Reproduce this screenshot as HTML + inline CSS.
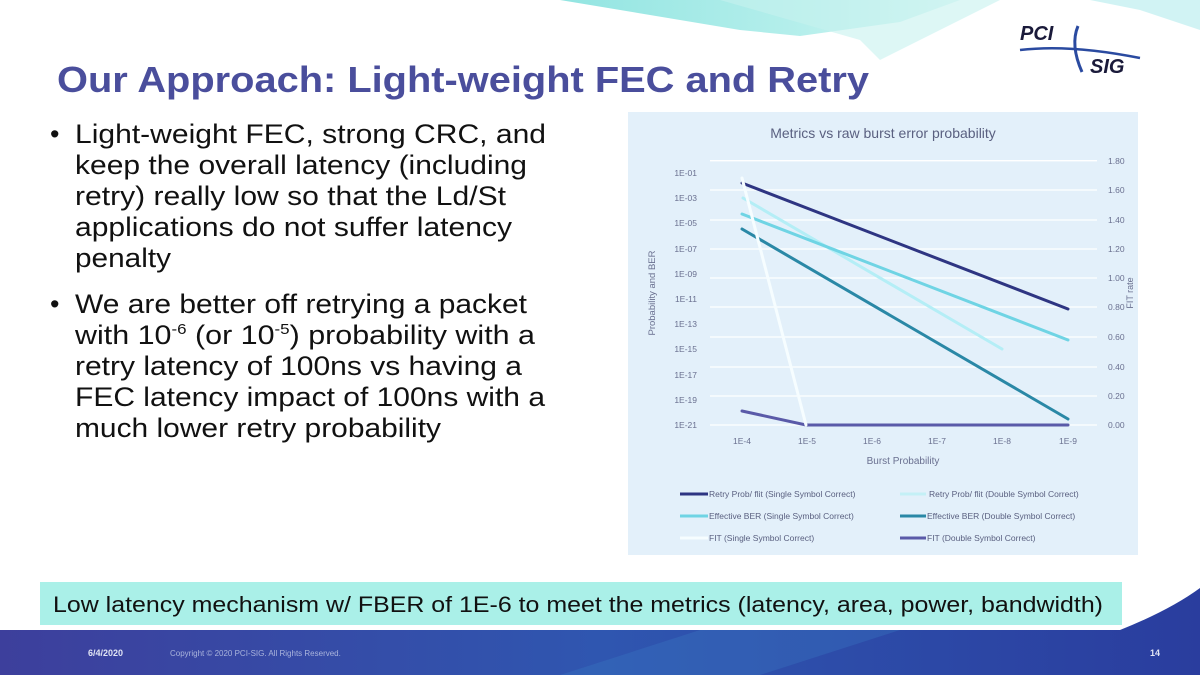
<!DOCTYPE html>
<html><head><meta charset="utf-8"><style>
html,body{margin:0;padding:0;background:#fff;}
body{width:1200px;height:675px;overflow:hidden;position:relative;font-family:"Liberation Sans",sans-serif;}
svg{position:absolute;left:0;top:0;}
</style></head><body>
<svg width="1200" height="675" viewBox="0 0 1200 675" xmlns="http://www.w3.org/2000/svg">
<defs>
<linearGradient id="top" x1="0" y1="0" x2="1" y2="0">
<stop offset="0" stop-color="#7fe0dc"/><stop offset="0.6" stop-color="#a8ece8"/><stop offset="1" stop-color="#d8f6f4"/>
</linearGradient>
<linearGradient id="foot" x1="0" y1="0" x2="1" y2="0">
<stop offset="0" stop-color="#3d3f9c"/><stop offset="0.5" stop-color="#2f56b0"/><stop offset="1" stop-color="#2a3d9e"/>
</linearGradient>
</defs>
<rect width="1200" height="675" fill="#fff"/>
<polygon points="560,0 960,0 900,22 800,36 740,30" fill="url(#top)" opacity="0.85"/>
<polygon points="720,0 1000,0 880,60 860,40" fill="#c6f2ee" opacity="0.6"/>
<polygon points="1090,0 1200,0 1200,30 1140,10" fill="#bdeef0" opacity="0.7"/>
<text x="1020" y="40" font-size="20" font-weight="bold" font-style="italic" fill="#1a1a3a">PCI</text>
<text x="1090" y="73" font-size="20" font-weight="bold" font-style="italic" fill="#1a1a3a">SIG</text>
<path d="M1020,50 Q1070,44 1140,58" stroke="#2a4aa0" stroke-width="2.5" fill="none"/>
<path d="M1078,26 Q1070,45 1082,72" stroke="#2a4aa0" stroke-width="3" fill="none"/>
<text x="57" y="92" font-size="36" font-weight="bold" fill="#4a4e9c" textLength="812" lengthAdjust="spacingAndGlyphs">Our Approach: Light-weight FEC and Retry</text>
<g font-size="27" fill="#111">
<text x="50" y="143">•</text>
<text x="75" y="143" textLength="471" lengthAdjust="spacingAndGlyphs">Light-weight FEC, strong CRC, and</text>
<text x="75" y="174" textLength="452" lengthAdjust="spacingAndGlyphs">keep the overall latency (including</text>
<text x="75" y="205" textLength="431" lengthAdjust="spacingAndGlyphs">retry) really low so that the Ld/St</text>
<text x="75" y="236" textLength="437" lengthAdjust="spacingAndGlyphs">applications do not suffer latency</text>
<text x="75" y="267" textLength="96" lengthAdjust="spacingAndGlyphs">penalty</text>
<text x="50" y="313">•</text>
<text x="75" y="313" textLength="452" lengthAdjust="spacingAndGlyphs">We are better off retrying a packet</text>
<text x="75" y="344" textLength="460" lengthAdjust="spacingAndGlyphs">with 10<tspan font-size="15" dy="-10">-6</tspan><tspan dy="10"> (or 10</tspan><tspan font-size="15" dy="-10">-5</tspan><tspan dy="10">) probability with a</tspan></text>
<text x="75" y="375" textLength="447" lengthAdjust="spacingAndGlyphs">retry latency of 100ns vs having a</text>
<text x="75" y="406" textLength="470" lengthAdjust="spacingAndGlyphs">FEC latency impact of 100ns with a</text>
<text x="75" y="437" textLength="366" lengthAdjust="spacingAndGlyphs">much lower retry probability</text>
</g>
<rect x="628" y="112" width="510" height="443" fill="#e3f0fa"/>
<text x="883" y="138" font-size="14" fill="#5a6080" text-anchor="middle">Metrics vs raw burst error probability</text>
<g stroke="#ffffff" stroke-width="1.3">
<line x1="710" x2="1097" y1="160.7" y2="160.7"/><line x1="710" x2="1097" y1="190" y2="190"/>
<line x1="710" x2="1097" y1="220" y2="220"/><line x1="710" x2="1097" y1="249" y2="249"/>
<line x1="710" x2="1097" y1="278" y2="278"/><line x1="710" x2="1097" y1="307" y2="307"/>
<line x1="710" x2="1097" y1="337" y2="337"/><line x1="710" x2="1097" y1="367" y2="367"/>
<line x1="710" x2="1097" y1="396" y2="396"/><line x1="710" x2="1097" y1="425" y2="425"/>
</g>
<g font-size="8.5" fill="#6a7090" text-anchor="end">
<text x="697" y="176">1E-01</text><text x="697" y="201">1E-03</text><text x="697" y="226">1E-05</text>
<text x="697" y="252">1E-07</text><text x="697" y="277">1E-09</text><text x="697" y="302">1E-11</text>
<text x="697" y="327">1E-13</text><text x="697" y="352">1E-15</text><text x="697" y="378">1E-17</text>
<text x="697" y="403">1E-19</text><text x="697" y="428">1E-21</text>
</g>
<g font-size="8.5" fill="#6a7090">
<text x="1108" y="164">1.80</text><text x="1108" y="193">1.60</text><text x="1108" y="223">1.40</text>
<text x="1108" y="252">1.20</text><text x="1108" y="281">1.00</text><text x="1108" y="310">0.80</text>
<text x="1108" y="340">0.60</text><text x="1108" y="370">0.40</text><text x="1108" y="399">0.20</text>
<text x="1108" y="428">0.00</text>
</g>
<g font-size="8.5" fill="#6a7090" text-anchor="middle">
<text x="742" y="444">1E-4</text><text x="807" y="444">1E-5</text><text x="872" y="444">1E-6</text>
<text x="937" y="444">1E-7</text><text x="1002" y="444">1E-8</text><text x="1068" y="444">1E-9</text>
</g>
<text x="903" y="464" font-size="10" fill="#6a7090" text-anchor="middle">Burst Probability</text>
<text transform="translate(655,293) rotate(-90)" font-size="9.5" fill="#6a7090" text-anchor="middle">Probability and BER</text>
<text transform="translate(1133,293) rotate(-90)" font-size="9" fill="#6a7090" text-anchor="middle">FIT rate</text>
<g stroke-width="3" fill="none" stroke-linecap="round">
<polyline points="742,411 806,425 1068,425" stroke="#5a5aa8"/>
<polyline points="742,229 1068,419" stroke="#2a88a6"/>
<polyline points="743,198 1002,349" stroke="#b4eef6"/>
<polyline points="742,214 1068,340" stroke="#6fd4e4"/>
<polyline points="742,183 1068,309" stroke="#2e3582"/>
<polyline points="742,178 806,425" stroke="#f6fdff"/>
</g>
<g stroke-width="3">
<line x1="680" x2="708" y1="494" y2="494" stroke="#2e3582"/>
<line x1="900" x2="926" y1="494" y2="494" stroke="#c4f0f6"/>
<line x1="680" x2="708" y1="516" y2="516" stroke="#6fd4e4"/>
<line x1="900" x2="926" y1="516" y2="516" stroke="#2a88a6"/>
<line x1="680" x2="708" y1="538" y2="538" stroke="#f6fdff"/>
<line x1="900" x2="926" y1="538" y2="538" stroke="#5a5aa8"/>
</g>
<g font-size="8.5" fill="#5a6080">
<text x="709" y="497">Retry Prob/ flit (Single Symbol Correct)</text>
<text x="929" y="497">Retry Prob/ flit (Double Symbol Correct)</text>
<text x="709" y="519">Effective BER (Single Symbol Correct)</text>
<text x="927" y="519">Effective BER (Double Symbol Correct)</text>
<text x="709" y="541">FIT (Single Symbol Correct)</text>
<text x="927" y="541">FIT (Double Symbol Correct)</text>
</g>
<rect x="40" y="582" width="1082" height="43" fill="#aaf0e8"/>
<text x="53" y="612" font-size="22" fill="#111" textLength="1050" lengthAdjust="spacingAndGlyphs">Low latency mechanism w/ FBER of 1E-6 to meet the metrics (latency, area, power, bandwidth)</text>
<path d="M0,630 L1120,630 Q1170,610 1200,588 L1200,675 L0,675 Z" fill="url(#foot)"/>
<polygon points="560,675 700,630 900,630 760,675" fill="#3a78c4" opacity="0.35"/>
<text x="88" y="656" font-size="9" font-weight="bold" fill="#e0e4f4">6/4/2020</text>
<text x="170" y="656" font-size="8" fill="#aab4dc">Copyright © 2020 PCI-SIG. All Rights Reserved.</text>
<text x="1160" y="656" font-size="9" font-weight="bold" fill="#e0e4f4" text-anchor="end">14</text>
</svg>
</body></html>
